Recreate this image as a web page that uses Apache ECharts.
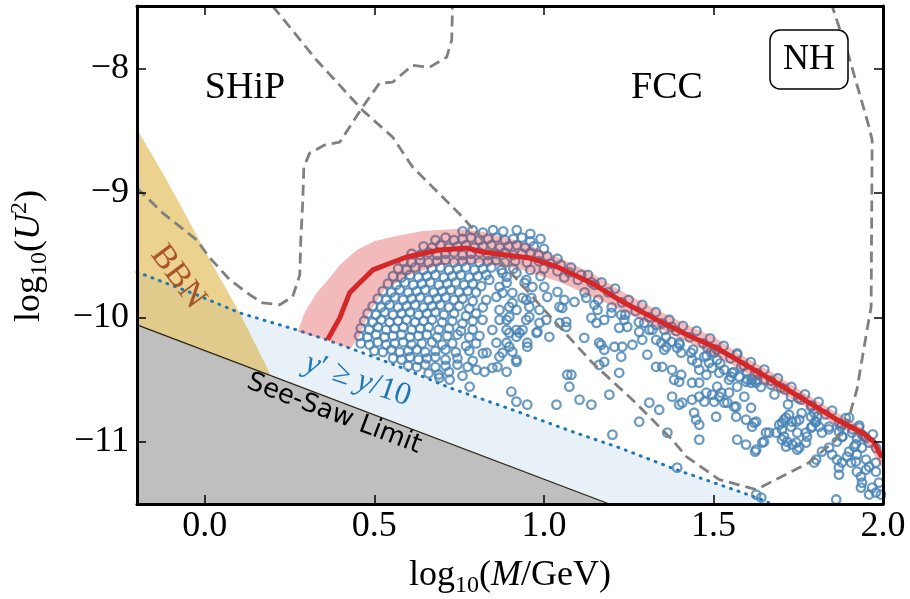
<!DOCTYPE html>
<html>
<head>
<meta charset="utf-8">
<script src="https://cdn.jsdelivr.net/npm/echarts@6/dist/echarts.min.js"></script>
<style>
  html, body { margin: 0; padding: 0; background: #fff; }
  #chart { width: 910px; height: 599px; }
</style>
</head>
<body>
<div id="chart"></div>
<script>
// axis ticks
const xTicks = [0, 0.5, 1, 1.5, 2];
const yTicks = [-11, -10, -9, -8];

// best-fit curve and its band
const redLine = [[0.362,-10.181],[0.398,-10.005],[0.427,-9.804],[0.495,-9.62],[0.595,-9.516],[0.692,-9.459],[0.772,-9.443],[0.819,-9.476],[0.89,-9.5],[0.957,-9.524],[1.04,-9.596],[1.14,-9.724],[1.237,-9.884],[1.334,-10.021],[1.434,-10.157],[1.502,-10.237],[1.57,-10.342],[1.67,-10.502],[1.767,-10.662],[1.864,-10.823],[1.944,-10.935],[1.973,-10.999],[1.997,-11.127]];
const bandUpper = [[0.274,-10.117],[0.295,-9.957],[0.33,-9.804],[0.368,-9.684],[0.398,-9.58],[0.448,-9.459],[0.501,-9.387],[0.566,-9.347],[0.642,-9.307],[0.742,-9.291],[0.81,-9.307],[0.869,-9.347],[0.943,-9.403],[1.04,-9.516],[1.14,-9.644],[1.237,-9.804],[1.334,-9.941],[1.434,-10.077],[1.502,-10.157],[1.57,-10.285],[1.67,-10.438],[1.767,-10.606],[1.864,-10.767],[1.935,-10.879],[1.973,-10.983],[2.0,-11.08]];
const bandLower = [[2.0,-11.22],[1.959,-11.039],[1.923,-10.943],[1.864,-10.871],[1.767,-10.711],[1.67,-10.566],[1.57,-10.406],[1.473,-10.261],[1.37,-10.133],[1.281,-10.013],[1.163,-9.86],[1.046,-9.716],[0.928,-9.612],[0.81,-9.564],[0.692,-9.58],[0.604,-9.66],[0.53,-9.78],[0.486,-9.957],[0.457,-10.149],[0.43,-10.25],[0.359,-10.181]];

// experiment reach (dashed)
const shipCurve = [[-0.2,-8.962],[-0.124,-9.163],[-0.024,-9.379],[0.015,-9.524],[0.074,-9.7],[0.133,-9.82],[0.171,-9.885],[0.221,-9.9],[0.259,-9.836],[0.28,-9.66],[0.283,-9.379],[0.289,-9.059],[0.292,-8.794],[0.309,-8.682],[0.353,-8.617],[0.398,-8.593],[0.465,-8.313],[0.515,-8.12],[0.554,-8.112],[0.613,-7.976],[0.663,-7.992],[0.713,-7.912],[0.728,-7.775],[0.73,-7.559],[0.73,-7.5]];
const fccCurve = [[0.2,-7.5],[0.33,-7.936],[0.465,-8.337],[0.554,-8.553],[0.613,-8.794],[0.76,-9.195],[0.869,-9.54],[0.948,-9.78],[1.046,-10.077],[1.143,-10.366],[1.261,-10.662],[1.378,-10.983],[1.42,-11.119],[1.517,-11.304],[1.626,-11.384],[1.782,-11.167],[1.862,-10.983],[1.9,-10.799],[1.923,-10.582],[1.953,-10.101],[1.965,-9.917],[1.968,-8.577],[1.959,-8.473],[1.9,-7.912],[1.85,-7.5]];

// constraints
const dottedLimit = [[-0.2,-9.636],[-0.124,-9.716],[-0.024,-9.82],[0.103,-9.965],[0.191,-10.037],[0.271,-10.101],[0.359,-10.181],[0.465,-10.285],[0.574,-10.398],[0.722,-10.566],[0.907,-10.743],[1.084,-10.919],[1.222,-11.047],[1.39,-11.224],[1.585,-11.408],[1.658,-11.48],[1.667,-11.5]];
const seesawLine = [[-0.2,-10.061],[1.193,-11.5]];
const bbnEdge = [[-0.2,-8.49],[-0.124,-8.842],[-0.053,-9.195],[0.015,-9.54],[0.103,-9.965],[0.191,-10.446]];

// scan points: dense cluster
const dotsDense = [
  [0.76,-9.31],[0.79,-9.30],[0.82,-9.32],[0.85,-9.30],[0.88,-9.31],[0.92,-9.30],[0.96,-9.33],[0.99,-9.37],
  [0.68,-9.38],[0.71,-9.36],[0.735,-9.38],[0.76,-9.37],[0.785,-9.36],[0.81,-9.38],[0.835,-9.37],[0.86,-9.36],[0.885,-9.38],[0.91,-9.37],[0.935,-9.36],[0.96,-9.39],
  [0.645,-9.43],[0.67,-9.44],[0.695,-9.42],[0.72,-9.44],[0.745,-9.43],[0.77,-9.42],[0.795,-9.44],[0.82,-9.43],[0.845,-9.42],[0.87,-9.44],[0.895,-9.43],[0.92,-9.42],[0.945,-9.44],[0.97,-9.43],[1.0,-9.45],
  [0.61,-9.49],[0.635,-9.5],[0.66,-9.48],[0.685,-9.5],[0.71,-9.49],[0.735,-9.48],[0.76,-9.5],[0.785,-9.49],[0.81,-9.48],[0.835,-9.5],[0.86,-9.49],[0.885,-9.48],[0.91,-9.5],[0.935,-9.49],[0.96,-9.48],[0.985,-9.5],[1.01,-9.51],[1.04,-9.53],
  [0.585,-9.55],[0.61,-9.56],[0.635,-9.54],[0.66,-9.56],[0.685,-9.55],[0.71,-9.54],[0.735,-9.56],[0.76,-9.55],[0.785,-9.54],[0.81,-9.56],[0.835,-9.55],[0.86,-9.54],[0.885,-9.56],[0.915,-9.55],[0.95,-9.56],[0.985,-9.55],[1.02,-9.57],[1.05,-9.58],[1.08,-9.6],
  [0.57,-9.61],[0.595,-9.62],[0.62,-9.6],[0.645,-9.62],[0.67,-9.61],[0.695,-9.6],[0.72,-9.62],[0.745,-9.61],[0.77,-9.6],[0.795,-9.62],[0.82,-9.61],[0.845,-9.6],[0.875,-9.62],[0.91,-9.61],[0.96,-9.62],[1.0,-9.61],[1.04,-9.63],[1.075,-9.64],[1.11,-9.66],
  [0.555,-9.67],[0.58,-9.68],[0.605,-9.66],[0.63,-9.68],[0.655,-9.67],[0.68,-9.66],[0.705,-9.68],[0.73,-9.67],[0.755,-9.66],[0.78,-9.68],[0.805,-9.67],[0.83,-9.66],[0.99,-9.67],[1.06,-9.68],[1.1,-9.7],[1.14,-9.72],
  [0.54,-9.73],[0.565,-9.74],[0.59,-9.72],[0.615,-9.74],[0.64,-9.73],[0.665,-9.72],[0.69,-9.74],[0.715,-9.73],[0.74,-9.72],[0.765,-9.74],[0.79,-9.73],[0.815,-9.75],
  [0.525,-9.79],[0.55,-9.8],[0.575,-9.78],[0.6,-9.8],[0.625,-9.79],[0.65,-9.78],[0.675,-9.8],[0.7,-9.79],[0.725,-9.78],[0.75,-9.8],[0.775,-9.79],[0.8,-9.8],
  [0.51,-9.85],[0.535,-9.86],[0.56,-9.84],[0.585,-9.86],[0.61,-9.85],[0.635,-9.84],[0.66,-9.86],[0.685,-9.85],[0.71,-9.84],[0.735,-9.86],[0.76,-9.85],[0.79,-9.87],[0.83,-9.86],
  [0.495,-9.91],[0.52,-9.92],[0.545,-9.9],[0.57,-9.92],[0.595,-9.91],[0.62,-9.9],[0.645,-9.92],[0.67,-9.91],[0.695,-9.9],[0.72,-9.92],[0.75,-9.91],[0.78,-9.93],[0.82,-9.92],
  [0.48,-9.97],[0.505,-9.98],[0.53,-9.96],[0.555,-9.98],[0.58,-9.97],[0.605,-9.96],[0.63,-9.98],[0.655,-9.97],[0.68,-9.96],[0.705,-9.98],[0.735,-9.97],[0.77,-9.99],[0.8,-9.97],
  [0.47,-10.03],[0.495,-10.04],[0.52,-10.02],[0.545,-10.04],[0.57,-10.03],[0.595,-10.02],[0.62,-10.04],[0.645,-10.03],[0.67,-10.02],[0.7,-10.04],[0.73,-10.03],[0.76,-10.05],[0.79,-10.03],
  [0.46,-10.09],[0.485,-10.1],[0.51,-10.08],[0.535,-10.1],[0.56,-10.09],[0.585,-10.08],[0.61,-10.1],[0.635,-10.09],[0.66,-10.08],[0.69,-10.1],[0.72,-10.09],[0.755,-10.11],[0.79,-10.1],
  [0.455,-10.15],[0.48,-10.16],[0.505,-10.14],[0.53,-10.16],[0.555,-10.15],[0.58,-10.14],[0.605,-10.16],[0.63,-10.15],[0.655,-10.14],[0.685,-10.16],[0.715,-10.15],[0.745,-10.14],[0.78,-10.16],[0.81,-10.15],
  [0.46,-10.21],[0.485,-10.22],[0.51,-10.2],[0.535,-10.22],[0.56,-10.21],[0.585,-10.2],[0.61,-10.22],[0.64,-10.21],[0.67,-10.2],[0.7,-10.22],[0.73,-10.21],[0.77,-10.23],[0.8,-10.21],
  [0.5,-10.27],[0.525,-10.28],[0.55,-10.26],[0.575,-10.28],[0.6,-10.27],[0.625,-10.26],[0.65,-10.28],[0.68,-10.27],[0.71,-10.26],[0.74,-10.28],[0.78,-10.27],[0.82,-10.29],
  [0.555,-10.33],[0.58,-10.34],[0.605,-10.32],[0.63,-10.34],[0.655,-10.33],[0.68,-10.32],[0.71,-10.34],[0.745,-10.33],[0.79,-10.35],
  [0.6,-10.39],[0.625,-10.4],[0.65,-10.38],[0.68,-10.4],[0.71,-10.39],[0.745,-10.38],
  [0.66,-10.45],[0.69,-10.46],[0.72,-10.44],[0.76,-10.47],
  [0.775,-10.398],[0.801,-10.422],[0.825,-10.438],[0.848,-10.406],[0.863,-10.398],[0.781,-10.558],[0.692,-10.486],[0.722,-10.502],
  [0.839,-9.7],[0.869,-9.756],[0.89,-9.676],[0.919,-9.644],[0.948,-9.7],[0.86,-9.836],[0.907,-9.885],[0.937,-9.844],[0.869,-9.941],[0.898,-9.997],[0.948,-10.021],[0.819,-10.021],[0.848,-10.101],[0.89,-10.101],[0.928,-10.125],[0.86,-10.205],[0.898,-10.237],[0.831,-10.285],[0.869,-10.317],[0.919,-10.342]
];

// scan points hugging the band
const dotsBand = [
  [1.13,-9.66],[1.15,-9.74],[1.12,-9.8],[1.17,-9.72],[1.19,-9.8],[1.16,-9.86],[1.21,-9.77],[1.23,-9.88],[1.2,-9.92],
  [1.25,-9.86],[1.27,-9.95],[1.24,-9.98],[1.29,-9.9],[1.31,-10.0],[1.28,-10.04],[1.33,-9.96],[1.35,-10.05],[1.32,-10.1],
  [1.37,-10.02],[1.39,-10.11],[1.36,-10.16],[1.41,-10.07],[1.43,-10.16],[1.4,-10.22],[1.45,-10.11],[1.47,-10.21],[1.44,-10.26],
  [1.49,-10.17],[1.51,-10.26],[1.48,-10.31],[1.53,-10.23],[1.55,-10.33],[1.52,-10.37],[1.57,-10.29],[1.59,-10.39],[1.56,-10.44],
  [1.61,-10.36],[1.63,-10.45],[1.6,-10.5],[1.65,-10.42],[1.67,-10.51],[1.64,-10.56],[1.69,-10.49],[1.71,-10.58],[1.68,-10.62],
  [1.73,-10.56],[1.75,-10.65],[1.72,-10.7],[1.77,-10.62],[1.79,-10.71],[1.76,-10.77],[1.81,-10.68],[1.83,-10.78],[1.8,-10.84],
  [1.85,-10.75],[1.87,-10.85],[1.84,-10.9],[1.89,-10.81],[1.91,-10.9],[1.88,-10.96],[1.93,-10.87],[1.95,-10.97],[1.92,-11.02],
  [1.97,-10.94],[1.98,-11.05]
];

// scattered scan points below the band
const dotsSparse = [
  [0.943,-9.724],[0.963,-9.844],[1.001,-9.756],[1.01,-9.836],[1.04,-9.796],[1.06,-9.86],[1.054,-9.925],[1.09,-9.876],[1.125,-9.844],[1.149,-9.9],
  [1.158,-9.941],[1.14,-10.005],[1.155,-10.045],[1.178,-10.021],[1.199,-9.965],[1.228,-9.981],[1.222,-10.085],[1.237,-10.021],[1.246,-10.077],
  [0.957,-9.997],[0.987,-10.045],[0.981,-10.117],[1.016,-10.157],[1.066,-10.077],[1.119,-10.165],[1.169,-10.221],[1.178,-10.261],[1.208,-10.237],
  [1.231,-10.237],[1.261,-10.221],[1.29,-10.181],[1.305,-10.301],[1.346,-10.205],[1.355,-10.261],[1.376,-10.197],[1.393,-10.245],[1.405,-10.285],
  [1.434,-10.285],[1.452,-10.366],[1.473,-10.317],[1.487,-10.366],[1.493,-10.277],[1.296,-10.045],[1.311,-10.101],[1.331,-10.061],[1.355,-10.101],
  [1.376,-10.077],[0.951,-10.237],
  [0.878,-9.644],[0.89,-9.724],[0.907,-9.804],[0.878,-9.804],[0.898,-9.917],[0.869,-10.021],[0.89,-10.021],[0.919,-9.941],[0.948,-9.86],[0.957,-9.917],
  [0.966,-9.756],[1.046,-9.917],[0.987,-9.941],[1.007,-10.021],[0.978,-10.125],[0.937,-10.101],[0.919,-10.101],[0.898,-10.125],[0.919,-10.157],
  [0.89,-10.205],[0.878,-10.285],[0.907,-10.277],[0.919,-10.358],[0.89,-10.438],[0.951,-10.205],[1.066,-10.037],[1.046,-10.045],[1.163,-10.205],
  [1.163,-10.382],[1.178,-10.358],[1.222,-10.446],[1.193,-10.622],[1.228,-10.317],[1.281,-10.117],[1.331,-10.181],[1.361,-10.237],[1.399,-10.205],
  [1.331,-10.398],[1.349,-10.398],[1.378,-10.422],[1.405,-10.462],[1.384,-10.502],[1.399,-10.518],[1.437,-10.526],[1.458,-10.422],[1.437,-10.342],
  [1.496,-10.406],[1.517,-10.446],[1.479,-10.462],[1.458,-10.526],[1.511,-10.558],[1.546,-10.502],[1.555,-10.446],[1.576,-10.478],[1.596,-10.518],
  [1.614,-10.502],[1.626,-10.526],[1.546,-10.606],[1.517,-10.638],[1.479,-10.606],[1.496,-10.622],[1.458,-10.638],[1.437,-10.662],[1.399,-10.702],
  [1.378,-10.638],[1.311,-10.686],[1.281,-10.839],[1.34,-10.743],[1.408,-10.686],[1.449,-10.823],[1.458,-10.863],[1.443,-10.767],[1.508,-10.799],
  [1.567,-10.799],[1.596,-10.823],[1.626,-10.839],[1.614,-10.879],[1.626,-11.063],[1.644,-11.007],[1.655,-10.927],[1.685,-10.927],[1.702,-10.903],
  [1.714,-10.807],[1.723,-10.783],[1.732,-10.839],[1.753,-10.823],[1.694,-10.863],[1.702,-10.983],[1.714,-11.039],[1.732,-11.023],[1.753,-11.047],
  [1.773,-10.927],[1.791,-10.879],[1.803,-10.839],[1.811,-10.879],[1.841,-10.879],[1.037,-10.702],[1.105,-10.662],[1.14,-10.702],[1.075,-10.558],
  [1.081,-10.462],[1.069,-10.462],[0.904,-10.598],[0.919,-10.678],[0.951,-10.702],[1.202,-10.943],[1.364,-10.927],[1.458,-10.983],[1.393,-11.208],
  [1.626,-11.424],[1.641,-11.448],[1.862,-11.464],
  [1.473,-10.678],[1.502,-10.678],[1.532,-10.686],[1.567,-10.719],[1.611,-10.727],[1.62,-10.847],[1.57,-10.983],[1.596,-11.023],[1.623,-11.079],
  [1.649,-10.999],[1.664,-10.927],[1.702,-10.847],[1.744,-10.839],[1.729,-10.879],[1.708,-10.959],[1.717,-10.999],[1.744,-11.007],[1.747,-11.063],
  [1.773,-11.007],[1.776,-10.959],[1.788,-10.887],[1.788,-10.799],[1.797,-10.767],[1.82,-10.927],[1.803,-11.143],[1.797,-11.167],[1.82,-11.079],
  [1.841,-11.047],[1.85,-11.103],[1.864,-11.143],[1.87,-11.208],[1.87,-11.264],[1.879,-11.167],[1.894,-11.119],[1.906,-11.167],[1.92,-11.159],
  [1.923,-11.24],[1.935,-11.28],[1.938,-11.328],[1.95,-11.224],[1.95,-11.143],[1.959,-11.2],[1.968,-11.368],[1.979,-11.24],[1.979,-11.167],
  [1.988,-11.328],[1.979,-11.408],[1.994,-11.424],[1.935,-11.368],[1.959,-11.424],[1.87,-10.919],[1.879,-10.959],[1.909,-10.927],[1.923,-10.967],
  [1.938,-10.943],[1.938,-11.047],[1.915,-11.039],[1.9,-11.079],[1.923,-11.103],[1.959,-11.007],[1.929,-10.887],[1.879,-10.863],[1.9,-10.807],
  [1.482,-10.245],[1.502,-10.285],[1.511,-10.342],[1.532,-10.422],[1.552,-10.478],[1.57,-10.301],[1.582,-10.398],[1.599,-10.438],[1.611,-10.526],
  [1.629,-10.502],[1.649,-10.502],[1.67,-10.542],[1.7,-10.566],[1.729,-10.638],[1.758,-10.662],[1.788,-10.719],[1.806,-10.799],[1.57,-10.558],
  [1.591,-10.638],[1.523,-10.606],[1.541,-10.686],[1.561,-10.719],[1.708,-10.823],[1.747,-10.927],[1.876,-10.879],[1.944,-10.959],[1.864,-10.999]
];

const SERIF = 'Liberation Serif';
const chart = echarts.init(document.getElementById('chart'), null, { renderer: 'canvas' });

function polygon(pts, fill, z) {
  return {
    type: 'custom',
    silent: true,
    clip: true,
    z: z,
    data: [pts[0]],
    renderItem: function (params, api) {
      return {
        type: 'polygon',
        shape: { points: pts.map(function (p) { return api.coord(p); }) },
        style: { fill: fill }
      };
    }
  };
}

function curve(pts, lineStyle, z) {
  return { type: 'line', data: pts, showSymbol: false, silent: true, z: z, lineStyle: lineStyle };
}

function dots(pts) {
  return {
    type: 'scatter', data: pts, symbol: 'circle', symbolSize: 8.5, silent: true, z: 6,
    itemStyle: { color: 'rgba(0,0,0,0)', borderColor: '#4682b4', borderWidth: 2.3 }
  };
}

const frameLine = { show: true, onZero: false, lineStyle: { color: '#000', width: 3 } };
const tickStyle = { inside: true, length: 9, lineStyle: { color: '#000', width: 1.5 } };
const dashStyle = { color: '#808080', width: 2.8, type: [11, 6] };

let option = {
  animation: false,
  backgroundColor: '#fff',
  grid: { left: 137, right: 27, top: 6, bottom: 95 },
  xAxis: [
    {
      type: 'value', min: -0.2, max: 2.0, position: 'bottom', z: 20,
      axisLine: frameLine,
      axisTick: Object.assign({ customValues: xTicks }, tickStyle),
      axisLabel: {
        customValues: xTicks, margin: 5, color: '#000', fontFamily: SERIF, fontSize: 36,
        formatter: function (v) { return v.toFixed(1); }
      },
      splitLine: { show: false }
    },
    {
      type: 'value', min: -0.2, max: 2.0, position: 'top', z: 20,
      axisLine: frameLine,
      axisTick: Object.assign({ customValues: xTicks }, tickStyle),
      axisLabel: { show: false },
      splitLine: { show: false }
    }
  ],
  yAxis: [
    {
      type: 'value', min: -11.5, max: -7.5, position: 'left', z: 20,
      axisLine: frameLine,
      axisTick: Object.assign({ customValues: yTicks }, tickStyle),
      axisLabel: {
        customValues: yTicks, margin: 8, color: '#000', fontFamily: SERIF, fontSize: 36,
        formatter: function (v) { return (v < 0 ? '\u2212' : '') + Math.abs(v); }
      },
      splitLine: { show: false }
    },
    {
      type: 'value', min: -11.5, max: -7.5, position: 'right', z: 20,
      axisLine: frameLine,
      axisTick: Object.assign({ customValues: yTicks }, tickStyle),
      axisLabel: { show: false },
      splitLine: { show: false }
    }
  ],
  series: [
    polygon(dottedLimit.concat([[-0.2, -11.5]]), 'rgb(233,241,248)', 1),
    polygon(bbnEdge.concat([[0.191, -11.5], [-0.2, -11.5]]), 'rgba(218,165,32,0.5)', 2),
    polygon(seesawLine.concat([[-0.2, -11.5]]), '#bfbfbf', 3),
    curve(seesawLine, { color: '#2a2410', width: 1.3 }, 4),
    curve(dottedLimit, { color: '#1f77b4', width: 3, type: [1, 7], cap: 'round' }, 5),
    dots(dotsDense),
    dots(dotsBand),
    dots(dotsSparse),
    polygon(bandUpper.concat(bandLower), 'rgba(214,39,40,0.32)', 7),
    curve(shipCurve, dashStyle, 8),
    curve(fccCurve, dashStyle, 8),
    curve(redLine, { color: '#d62728', width: 5 }, 9)
  ],
  graphic: [
    { type: 'text', x: 245, y: 88, z: 50, style: { text: 'SHiP', fontFamily: SERIF, fontSize: 38, fill: '#000', align: 'center', verticalAlign: 'middle' } },
    { type: 'text', x: 667, y: 88, z: 50, style: { text: 'FCC', fontFamily: SERIF, fontSize: 38, fill: '#000', align: 'center', verticalAlign: 'middle' } },
    { type: 'rect', z: 50, shape: { x: 770, y: 30, width: 78, height: 59, r: 10 }, style: { fill: '#fff', stroke: '#000', lineWidth: 1.5 } },
    { type: 'text', x: 809, y: 60, z: 51, style: { text: 'NH', fontFamily: SERIF, fontSize: 36, fill: '#000', align: 'center', verticalAlign: 'middle' } },
    { type: 'text', x: 178, y: 277, rotation: -0.93, z: 50, style: { text: 'BBN', fontFamily: SERIF, fontSize: 34, fill: '#a9542b', align: 'center', verticalAlign: 'middle' } },
    {
      type: 'text', x: 358, y: 380, rotation: -0.33, z: 50,
      style: {
        text: '{i|y}{n|\u2032 \u2265 }{i|y}{n|/10}', align: 'center', verticalAlign: 'middle',
        rich: {
          i: { fontFamily: SERIF, fontStyle: 'italic', fontSize: 32, fill: '#1f77b4' },
          n: { fontFamily: SERIF, fontSize: 32, fill: '#1f77b4' }
        }
      }
    },
    { type: 'text', x: 334, y: 414, rotation: -0.363, z: 50, style: { text: 'See-Saw Limit', fontFamily: 'DejaVu Sans', fontSize: 26, fill: '#000', align: 'center', verticalAlign: 'middle' } },
    {
      type: 'text', x: 510, y: 576, z: 50,
      style: {
        text: '{n|log}{s|10}{n|(}{i|M}{n|/GeV)}', align: 'center', verticalAlign: 'middle',
        rich: {
          n: { fontFamily: SERIF, fontSize: 36, lineHeight: 44, fill: '#000' },
          i: { fontFamily: SERIF, fontStyle: 'italic', fontSize: 36, lineHeight: 44, fill: '#000' },
          s: { fontFamily: SERIF, fontSize: 24, lineHeight: 24, verticalAlign: 'bottom', fill: '#000' }
        }
      }
    },
    {
      type: 'text', x: 30, y: 256, rotation: Math.PI / 2, z: 50,
      style: {
        text: '{n|log}{s|10}{n|(}{i|U}{p|2}{n|)}', align: 'center', verticalAlign: 'middle',
        rich: {
          n: { fontFamily: SERIF, fontSize: 36, lineHeight: 44, fill: '#000' },
          i: { fontFamily: SERIF, fontStyle: 'italic', fontSize: 36, lineHeight: 44, fill: '#000' },
          s: { fontFamily: SERIF, fontSize: 24, lineHeight: 24, verticalAlign: 'bottom', fill: '#000' },
          p: { fontFamily: SERIF, fontSize: 24, lineHeight: 24, verticalAlign: 'top', fill: '#000' }
        }
      }
    }
  ]
};

option && chart.setOption(option);
</script>
</body>
</html>
